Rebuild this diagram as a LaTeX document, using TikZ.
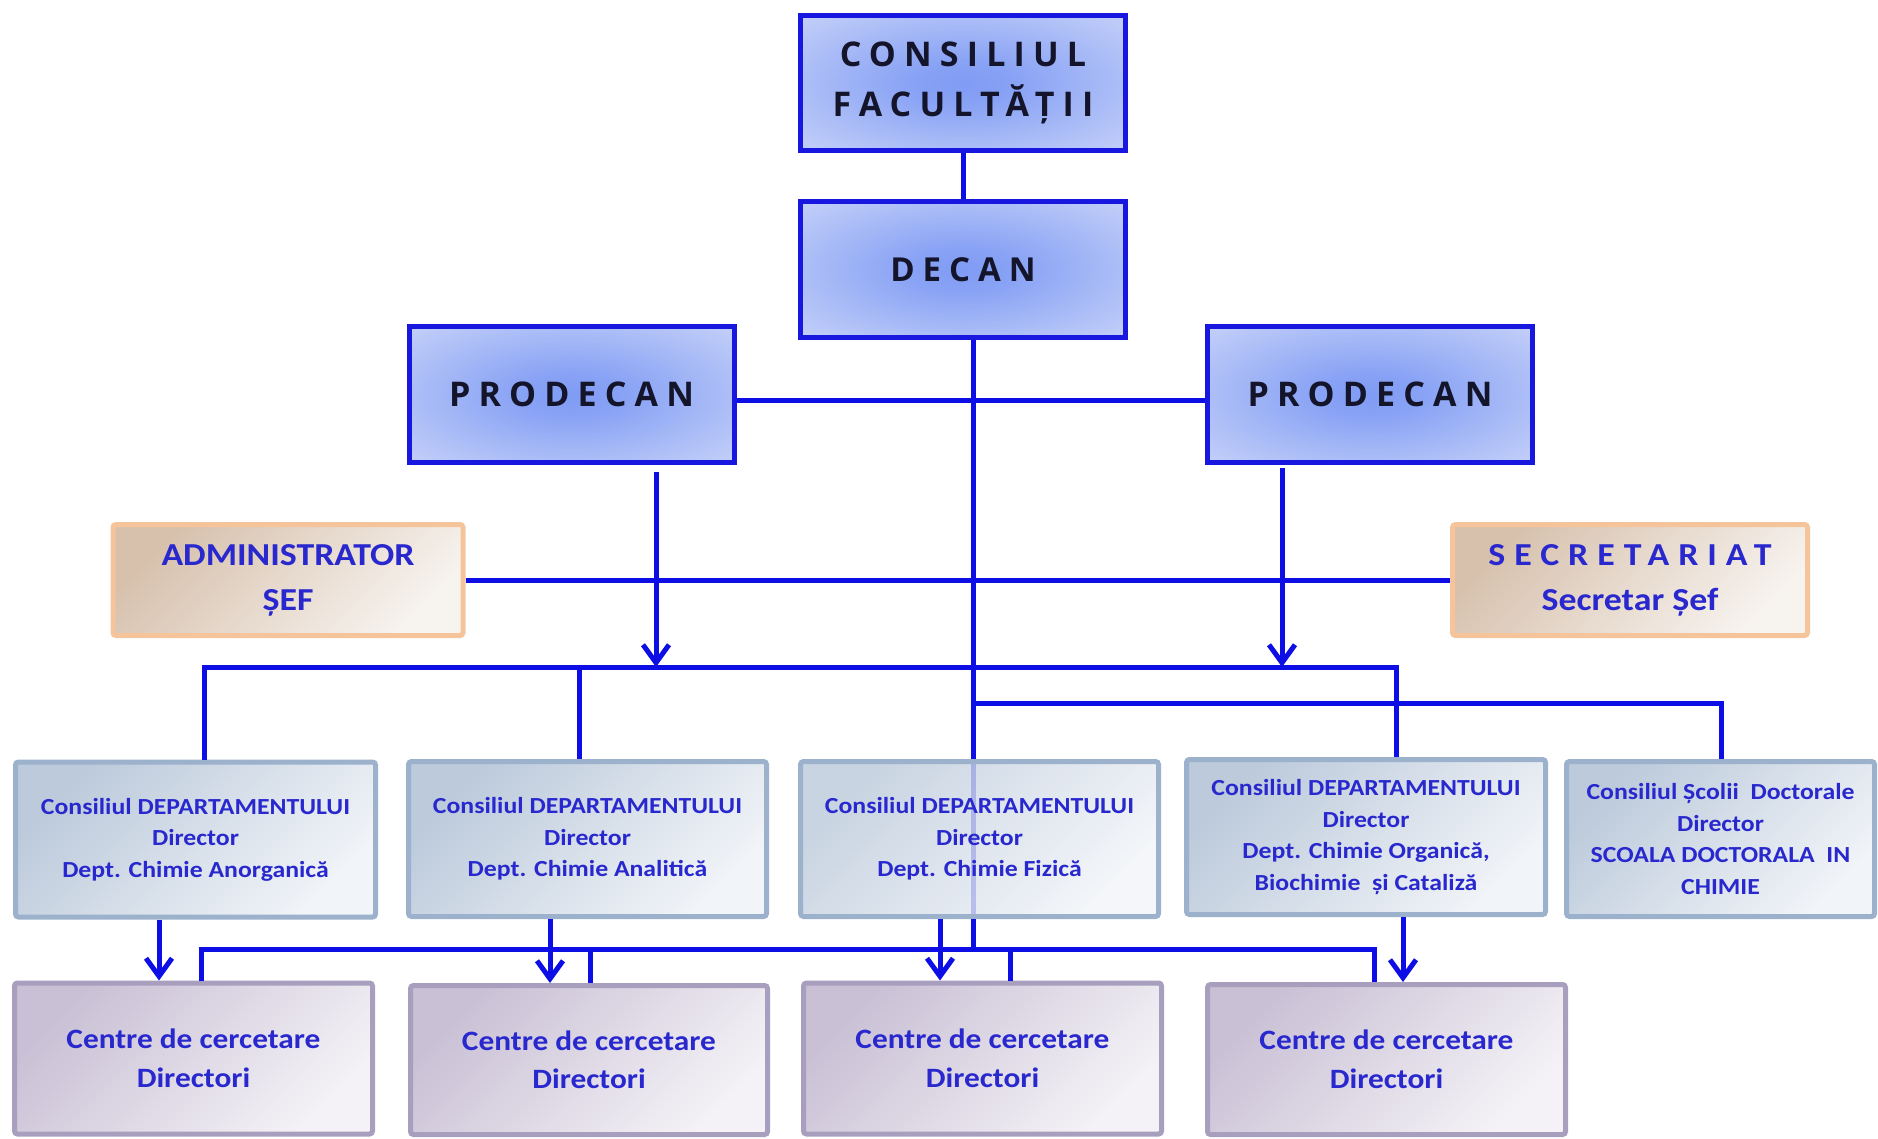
\documentclass[tikz,border=0pt]{standalone}
\usepackage{fontspec}
\setmainfont{Carlito}
\newfontfamily\topfont{Open Sans}[LetterSpace=24]
\newfontfamily\calf{Carlito}[FakeStretch=1.12]
\newfontfamily\calsp{Carlito}[FakeStretch=1.12,LetterSpace=28]
\usetikzlibrary{arrows.meta}
\definecolor{lineblue}{HTML}{0D0DE6}
\definecolor{topborder}{HTML}{1717E0}
\definecolor{topin}{HTML}{7F9BF4}
\definecolor{topout}{HTML}{DDE3FA}
\definecolor{toptext}{HTML}{14142A}
\definecolor{admborder}{HTML}{F5C49A}
\definecolor{admdark}{HTML}{D7C1AD}
\definecolor{admlight}{HTML}{F7F3EF}
\definecolor{depborder}{HTML}{9CB1CB}
\definecolor{depdark}{HTML}{BCCADB}
\definecolor{deplight}{HTML}{F1F4F8}
\definecolor{cenborder}{HTML}{A89EBD}
\definecolor{cendark}{HTML}{C9C0D5}
\definecolor{cenlight}{HTML}{F4F2F6}
\definecolor{bluetext}{HTML}{2828CE}
\pgfdeclareradialshading{topshade}{\pgfpoint{0bp}{0bp}}{%
  color(0bp)=(topin); color(8bp)=(topin!90!topout); color(25bp)=(topin!50!topout);
  color(42bp)=(topin!12!topout); color(50bp)=(topout)}
\tikzset{
  topbox/.style={draw=topborder, line width=5pt, shading=topshade,
    minimum width=325pt, minimum height=136pt, inner sep=0pt,
    align=center, text=toptext, font=\topfont\bfseries\fontsize{34}{50}\selectfont},
  admbox/.style={draw=admborder, line width=5pt, rounded corners=3pt, top color=admdark,
    bottom color=admlight, shading angle=45, minimum width=350pt, minimum height=111pt,
    inner sep=0pt, align=center, text=bluetext, font=\calf\bfseries\fontsize{32}{45}\selectfont},
  depbox/.style={draw=depborder, line width=5pt, rounded corners=3pt, top color=depdark,
    bottom color=deplight, shading angle=45, minimum width=359pt, minimum height=155pt,
    inner sep=0pt, align=center, text=bluetext, font=\calf\bfseries\fontsize{23}{31.5}\selectfont},
  cenbox/.style={draw=cenborder, line width=5pt, rounded corners=3pt, top color=cendark,
    bottom color=cenlight, shading angle=45, minimum width=358pt, minimum height=151pt,
    inner sep=0pt, align=center, text=bluetext, font=\calf\bfseries\fontsize{28}{38.5}\selectfont},
  conn/.style={draw=lineblue, line width=5pt},
  arr/.style={conn, -{Straight Barb[length=18pt,width=26pt]}},
}
\begin{document}
\begin{tikzpicture}[x=1pt,y=-1pt]
\useasboundingbox (0,0) rectangle (1878,1138);
% named coordinates for bus lines
\coordinate (bus1L) at (204,667);
\coordinate (bus1R) at (1396,667);
\coordinate (j2) at (579,667);
\coordinate (bus2L) at (973,703);
\coordinate (bus2R) at (1721,703);
\coordinate (bus3L) at (201,949);
\coordinate (bus3R) at (1374,949);
\coordinate (j5) at (590,949);
\coordinate (j6) at (1010,949);
\coordinate (trunkB) at (973,949);
\coordinate (a1) at (159,0);
\coordinate (a2) at (550,0);
\coordinate (a3) at (940,0);
\coordinate (a4) at (1403,0);
\coordinate (pa1) at (656,0);
\coordinate (pa2) at (1282,0);

% trunk behind the departament box it crosses
\draw[conn] (bus2L |- 0,340) -- (trunkB);

% boxes
\node[topbox, minimum height=135pt] (cf) at (963,83) {CONSILIUL\\FACULTĂȚII};
\node[topbox, font=\topfont\bfseries\fontsize{33}{40}\selectfont] (decan) at (963,269.5) {DECAN};
\node[topbox] (pl) at (571.5,394.5) {PRODECAN};
\node[topbox] (pr) at (1370,394.5) {PRODECAN};
\node[admbox] (adm) at (288,580) {ADMINISTRATOR\\ȘEF};
\node[admbox, minimum width=355pt] (sec) at (1630,580) {{\calsp SECRETARIAT}\\Secretar Șef};
\node[depbox, minimum width=360pt] (d1) at (195.5,839.5) {Consiliul DEPARTAMENTULUI\\Director\\Dept. Chimie Anorganică};
\node[depbox, minimum width=358pt] (d2) at (587.5,839) {Consiliul DEPARTAMENTULUI\\Director\\Dept. Chimie Analitică};
\node[depbox, minimum width=358pt, fill opacity=0.82, text opacity=1] (d3) at (979.5,839) {Consiliul DEPARTAMENTULUI\\Director\\Dept. Chimie Fizică};
\node[depbox] (d4) at (1366,837) {Consiliul DEPARTAMENTULUI\\Director\\Dept. Chimie Organică,\\Biochimie~ și Cataliză};
\node[depbox, minimum width=308pt] (d5) at (1720.5,839) {Consiliul Școlii~ Doctorale\\Director\\SCOALA DOCTORALA~ IN\\CHIMIE};
\node[cenbox] (c1) at (193.5,1058.5) {Centre de cercetare\\Directori};
\node[cenbox, minimum width=357pt, minimum height=149pt] (c2) at (589,1060) {Centre de cercetare\\Directori};
\node[cenbox] (c3) at (982.5,1058.5) {Centre de cercetare\\Directori};
\node[cenbox, minimum height=150pt] (c4) at (1386.5,1059.5) {Centre de cercetare\\Directori};

% connectors
\draw[conn] (cf.south) -- (decan.north);
\draw[conn] (decan.south -| bus2L) -- (bus2L |- d3.north);
\draw[conn] (bus2L |- d3.south) -- (trunkB);
\draw[conn] ([yshift=-6pt]pl.east) -- ([yshift=-6pt]pr.west);
\draw[conn] (adm.east) -- (sec.west);
\draw[arr] ([yshift=-7pt]pl.south -| pa1) -- (pa1 |- bus1L);
\draw[arr] ([yshift=-3pt]pr.south -| pa2) -- (pa2 |- bus1L);
\draw[conn] (bus1L |- d1.north) -- (bus1L) -- (bus1R) -- (bus1R |- d4.north);
\draw[conn] (j2) -- (j2 |- d2.north);
\draw[conn] (bus2L) -- (bus2R) -- (bus2R |- d5.north);
\draw[conn] (bus3L |- c1.north) -- (bus3L) -- (bus3R) -- (bus3R |- c4.north);
\draw[conn] (j5) -- (j5 |- c2.north);
\draw[conn] (j6) -- (j6 |- c3.north);
\draw[arr] (d1.south -| a1) -- (c1.north -| a1);
\draw[arr] (d2.south -| a2) -- (c2.north -| a2);
\draw[arr] (d3.south -| a3) -- (c3.north -| a3);
\draw[arr] (d4.south -| a4) -- (c4.north -| a4);
\end{tikzpicture}
\end{document}
